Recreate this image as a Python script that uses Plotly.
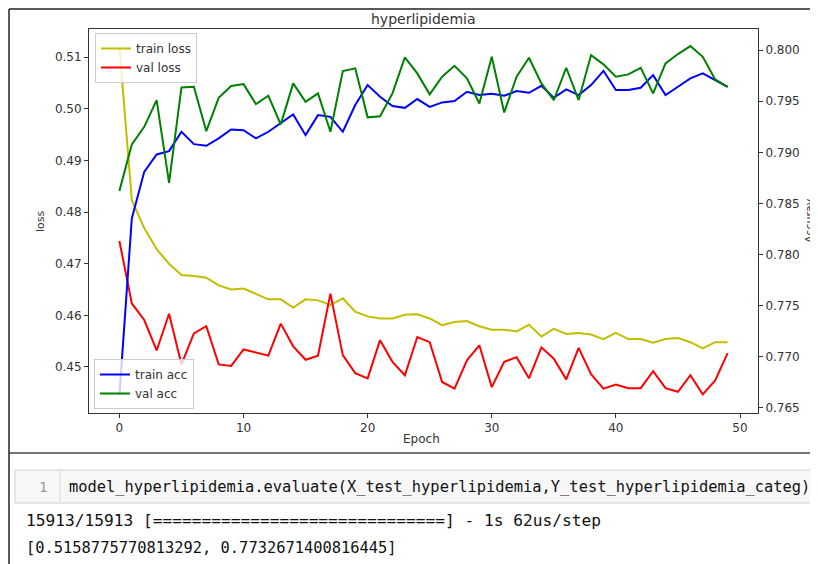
import plotly.graph_objects as go

epochs = list(range(50))

train_loss = [0.5120, 0.4823, 0.4769, 0.4728, 0.4700, 0.4678, 0.4676, 0.4673, 0.4658, 0.4650,
              0.4652, 0.4641, 0.4631, 0.4631, 0.4615, 0.4631, 0.4629, 0.4620, 0.4633, 0.4607,
              0.4598, 0.4594, 0.4594, 0.4601, 0.4602, 0.4594, 0.4581, 0.4587, 0.4589, 0.4579,
              0.4572, 0.4572, 0.4569, 0.4582, 0.4559, 0.4574, 0.4564, 0.4566, 0.4563, 0.4554,
              0.4566, 0.4554, 0.4554, 0.4547, 0.4554, 0.4556, 0.4548, 0.4536, 0.4548, 0.4548]

val_loss = [0.4744, 0.4623, 0.4591, 0.4532, 0.4603, 0.4505, 0.4565, 0.4579, 0.4505, 0.4502,
            0.4534, 0.4528, 0.4522, 0.4584, 0.4540, 0.4514, 0.4522, 0.4642, 0.4523, 0.4488,
            0.4478, 0.4552, 0.4510, 0.4484, 0.4558, 0.4548, 0.4471, 0.4458, 0.4513, 0.4542,
            0.4461, 0.4510, 0.4519, 0.4478, 0.4538, 0.4516, 0.4476, 0.4537, 0.4486, 0.4458,
            0.4466, 0.4459, 0.4459, 0.4492, 0.4459, 0.4452, 0.4484, 0.4447, 0.4474, 0.4527]

train_acc = [0.76624, 0.78353, 0.78809, 0.78979, 0.79012, 0.79201, 0.79080, 0.79064, 0.79136, 0.79224,
             0.79217, 0.79136, 0.79201, 0.79283, 0.79371, 0.79168, 0.79364, 0.79347, 0.79201, 0.79462,
             0.79658, 0.79543, 0.79452, 0.79435, 0.79521, 0.79445, 0.79488, 0.79501, 0.79592, 0.79560,
             0.79572, 0.79553, 0.79599, 0.79582, 0.79650, 0.79533, 0.79616, 0.79560, 0.79658, 0.79797,
             0.79609, 0.79609, 0.79631, 0.79755, 0.79560, 0.79641, 0.79723, 0.79772, 0.79707, 0.79641]

val_acc = [0.78623, 0.79077, 0.79249, 0.79511, 0.78702, 0.79635, 0.79641, 0.79207, 0.79533, 0.79648,
           0.79667, 0.79472, 0.79553, 0.79273, 0.79674, 0.79494, 0.79576, 0.79201, 0.79795, 0.79821,
           0.79342, 0.79352, 0.79576, 0.79929, 0.79772, 0.79567, 0.79739, 0.79846, 0.79723, 0.79478,
           0.79934, 0.79390, 0.79739, 0.79925, 0.79674, 0.79511, 0.79827, 0.79511, 0.79951, 0.79860,
           0.79739, 0.79762, 0.79827, 0.79576, 0.79870, 0.79961, 0.80039, 0.79934, 0.79713, 0.79641]

x_ticks = [0, 10, 20, 30, 40, 50]
loss_ticks = [0.45, 0.46, 0.47, 0.48, 0.49, 0.50, 0.51]
acc_ticks = [0.765, 0.770, 0.775, 0.780, 0.785, 0.790, 0.795, 0.800]

title_text = "hyperlipidemia"
code_line = "model_hyperlipidemia.evaluate(X_test_hyperlipidemia,Y_test_hyperlipidemia_categ)"
out_line1 = "15913/15913 [==============================] - 1s 62us/step"
out_line2 = "[0.5158775770813292, 0.7732671400816445]"

# page is 818x564 but the browser body keeps an 8px margin
OFF = 8
W, H = 818 - OFF, 564 - OFF
PX0, PX1, PY0, PY1 = 89, 758, 29, 413   # plot area in page pixels


def px(x):
    return (x - PX0) / (PX1 - PX0)


def py(y):
    return (PY1 - y) / (PY1 - PY0)


fig = go.Figure()
fig.add_trace(go.Scatter(x=epochs, y=train_loss, mode="lines", name="train loss",
                         line=dict(color="#bfbf00", width=2), legend="legend"))
fig.add_trace(go.Scatter(x=epochs, y=val_loss, mode="lines", name="val loss",
                         line=dict(color="#ff0000", width=2), legend="legend"))
fig.add_trace(go.Scatter(x=epochs, y=train_acc, mode="lines", name="train acc", yaxis="y2",
                         line=dict(color="#0000ff", width=2), legend="legend2"))
fig.add_trace(go.Scatter(x=epochs, y=val_acc, mode="lines", name="val acc", yaxis="y2",
                         line=dict(color="#008000", width=2), legend="legend2"))

axis_font = dict(family="DejaVu Sans", size=12, color="#333")

fig.update_layout(
    width=W, height=H, autosize=False,
    margin=dict(l=PX0 - OFF, r=818 - PX1, t=PY0 - OFF, b=564 - PY1, pad=0),
    paper_bgcolor="white", plot_bgcolor="white",
    font=dict(family="DejaVu Sans", size=12, color="#333"),
    xaxis=dict(range=[-2.45, 51.45], tickvals=x_ticks, showgrid=False, zeroline=False,
               showline=True, linecolor="#333", linewidth=1, mirror=True,
               ticks="outside", ticklen=4, tickcolor="#333", tickfont=axis_font, automargin=False),
    yaxis=dict(range=[0.44109, 0.51545], tickvals=loss_ticks, tickformat=".2f", showgrid=False,
               zeroline=False, showline=True, linecolor="#333", linewidth=1,
               ticks="outside", ticklen=4, tickcolor="#333", tickfont=axis_font, automargin=False),
    yaxis2=dict(range=[0.76451, 0.80206], tickvals=acc_ticks, tickformat=".3f", overlaying="y",
                side="right", showgrid=False, zeroline=False, showline=True, linecolor="#333",
                linewidth=1, ticks="outside", ticklen=4, tickcolor="#333", tickfont=axis_font,
                automargin=False),
    legend=dict(x=px(95), y=py(33), xanchor="left", yanchor="top", bgcolor="rgba(255,255,255,0.8)",
                bordercolor="#cccccc", borderwidth=1, font=dict(family="DejaVu Sans", size=12, color="#333"),
                itemwidth=30, tracegroupgap=0),
    legend2=dict(x=px(94), y=py(409), xanchor="left", yanchor="bottom", bgcolor="rgba(255,255,255,0.8)",
                 bordercolor="#cccccc", borderwidth=1, font=dict(family="DejaVu Sans", size=12, color="#333"),
                 itemwidth=30, tracegroupgap=0),
    showlegend=True,
)

annotations = [
    dict(text=title_text, x=px(423.5), y=py(19), xref="paper", yref="paper", showarrow=False,
         font=dict(family="DejaVu Sans", size=14, color="#333"), xanchor="center", yanchor="middle"),
    dict(text="Epoch", x=px(421), y=py(439), xref="paper", yref="paper", showarrow=False,
         font=dict(family="DejaVu Sans", size=12, color="#333"), xanchor="center", yanchor="middle"),
    dict(text="loss", x=px(40), y=py(221), xref="paper", yref="paper", showarrow=False, textangle=-90,
         font=dict(family="DejaVu Sans", size=11, color="#333"), xanchor="center", yanchor="middle"),
    dict(text="Accuray", x=px(809), y=py(221), xref="paper", yref="paper", showarrow=False, textangle=-90,
         font=dict(family="DejaVu Sans", size=11, color="#333"), xanchor="center", yanchor="middle"),
    dict(text="1", x=px(49), y=py(487), xref="paper", yref="paper", showarrow=False,
         font=dict(family="DejaVu Sans Mono", size=14, color="#999"), xanchor="right", yanchor="middle"),
    dict(text=code_line, x=px(67), y=py(487), xref="paper", yref="paper", showarrow=False,
         font=dict(family="DejaVu Sans Mono", size=15.4, color="#111"), xanchor="left", yanchor="middle"),
    dict(text=out_line1, x=px(24), y=py(520), xref="paper", yref="paper", showarrow=False,
         font=dict(family="DejaVu Sans Mono", size=16.2, color="#111"), xanchor="left", yanchor="middle"),
    dict(text=out_line2, x=px(24), y=py(548), xref="paper", yref="paper", showarrow=False,
         font=dict(family="DejaVu Sans Mono", size=15.4, color="#111"), xanchor="left", yanchor="middle"),
]
fig.update_layout(annotations=annotations)

shapes = [
    # outer frame lines of the screenshot
    dict(type="line", x0=px(9), x1=px(9), y0=py(9), y1=py(564), xref="paper", yref="paper",
         line=dict(color="#222", width=1.5)),
    dict(type="line", x0=px(9), x1=px(818), y0=py(9), y1=py(9), xref="paper", yref="paper",
         line=dict(color="#222", width=1.5)),
    dict(type="line", x0=px(9), x1=px(818), y0=py(453), y1=py(453), xref="paper", yref="paper",
         line=dict(color="#444", width=1.5)),
    # code cell box
    dict(type="rect", x0=px(15), x1=px(812), y0=py(470), y1=py(503), xref="paper", yref="paper",
         fillcolor="#f7f7f7", line=dict(color="#cfcfcf", width=1), layer="below"),
    dict(type="line", x0=px(60), x1=px(60), y0=py(470), y1=py(503), xref="paper", yref="paper",
         line=dict(color="#dddddd", width=1)),
]
fig.update_layout(shapes=shapes)

fig.write_html("out.html")
